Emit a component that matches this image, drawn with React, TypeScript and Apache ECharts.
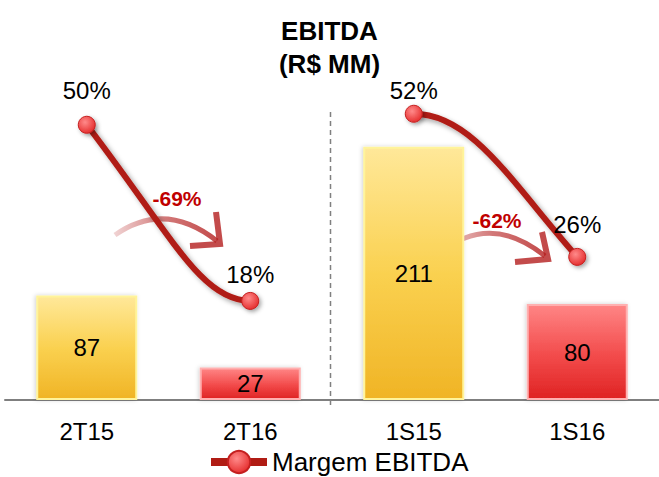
import React, { useEffect, useRef } from "react";
import * as echarts from "echarts";

// ---- data ----
const categories = ["2T15", "2T16", "1S15", "1S16"];
const ebitdaValues = [87, 27, 211, 80];
const marginValues = [50, 18, 52, 26];
const comparisonPairs = [
  [0, 1],
  [2, 3],
];
const titleText = "EBITDA\n(R$ MM)";
const legendName = "Margem EBITDA";

// ---- styles ----
const FONT = '"Liberation Sans", Arial, sans-serif';
const marginLabelGap = [13, 5, 2, 11];
const curveShapes = [
  { c1: [0.52, 0.63], c2: [0.7, 1.0] },
  { c1: [0.36, 0.0], c2: [0.61, 0.5] },
];
const LINE_RED = "#b01c14";

const yellowFill = () =>
  new echarts.graphic.LinearGradient(0, 0, 0, 1, [
    { offset: 0, color: "#ffe899" },
    { offset: 0.5, color: "#fad150" },
    { offset: 1, color: "#f0b425" },
  ]);
const redFill = () =>
  new echarts.graphic.LinearGradient(0, 0, 0, 1, [
    { offset: 0, color: "#ff8585" },
    { offset: 0.55, color: "#f24a4a" },
    { offset: 1, color: "#df2323" },
  ]);

export default function App() {
  const ref = useRef<HTMLDivElement>(null);

  useEffect(() => {
    if (!ref.current) return;
    const chart = echarts.init(ref.current, undefined, { renderer: "svg" });

    const barData = ebitdaValues.map((v, i) => {
      const is2015 = categories[i].endsWith("15");
      return {
        value: v,
        itemStyle: {
          color: is2015 ? yellowFill() : redFill(),
          borderColor: is2015 ? "#fff49a" : "#ffb0b0",
          borderWidth: 2,
          shadowBlur: 4,
          shadowColor: "rgba(0,0,0,0.18)",
          shadowOffsetX: -1,
        },
      };
    });

    const marginData = marginValues.map((v, i) => ({
      value: v,
      label: { distance: marginLabelGap[i] },
    }));

    const curveData = comparisonPairs.map(([a, b]) => [
      a,
      marginValues[a],
      b,
      marginValues[b],
    ]);

    const deltaTexts = comparisonPairs.map(
      ([a, b]) =>
        `${Math.round((ebitdaValues[b] / ebitdaValues[a] - 1) * 100)}%`
    );

    const arrowStroke = () =>
      new echarts.graphic.LinearGradient(0, 0, 1, 0, [
        { offset: 0, color: "rgba(180,30,30,0.2)" },
        { offset: 0.5, color: "rgba(180,30,30,0.6)" },
        { offset: 1, color: "rgba(180,30,30,0.8)" },
      ]);

    const arrows = [
      { p0: [115, 235], cp: [165, 200], p1: [217, 241], head: [[216, 212], [220, 244], [190, 246]], text: [177, 198] },
      { p0: [440, 253], cp: [490, 212], p1: [545, 256], head: [[542, 232], [548, 259], [515, 262]], text: [497, 220] },
    ];

    const graphics: any[] = [
      {
        type: "line",
        z: 1,
        shape: { x1: 330.5, y1: 112, x2: 330.5, y2: 408 },
        style: { stroke: "#808080", lineWidth: 1.5, lineDash: [5, 4] },
      },
    ];
    arrows.forEach((a, i) => {
      graphics.push({
        type: "bezierCurve",
        z: 1,
        shape: { x1: a.p0[0], y1: a.p0[1], cpx1: a.cp[0], cpy1: a.cp[1], x2: a.p1[0], y2: a.p1[1] },
        style: { stroke: arrowStroke(), lineWidth: 5, fill: null },
      });
      graphics.push({
        type: "polyline",
        z: 1,
        shape: { points: a.head },
        style: { stroke: "rgba(180,30,30,0.8)", lineWidth: 6, fill: null, lineJoin: "miter" },
      });
      graphics.push({
        type: "text",
        z: 20,
        x: a.text[0],
        y: a.text[1],
        style: {
          text: deltaTexts[i],
          fill: "#c00000",
          font: `bold 21px ${FONT}`,
          align: "center",
          verticalAlign: "middle",
        },
      });
    });

    chart.setOption({
      animation: false,
      backgroundColor: "#ffffff",
      title: {
        text: titleText,
        left: "center",
        top: 9,
        textStyle: {
          fontSize: 26,
          fontWeight: "bold",
          lineHeight: 33,
          color: "#000",
          fontFamily: FONT,
        },
      },
      legend: {
        data: [legendName],
        left: 202,
        top: 444,
        itemWidth: 56,
        itemHeight: 28,
        selectedMode: false,
        lineStyle: { color: LINE_RED, width: 8, opacity: 1 },
        textStyle: { fontSize: 26, color: "#000", fontFamily: FONT },
      },
      grid: { left: 5, right: 0, top: 100, bottom: 77 },
      xAxis: {
        type: "category",
        data: categories,
        axisTick: { show: false },
        axisLine: { lineStyle: { color: "#7f7f7f", width: 2 } },
        axisLabel: { fontSize: 24, color: "#000", margin: 19, fontFamily: FONT },
      },
      yAxis: [
        { type: "value", min: 0, max: 250, show: false },
        { type: "value", min: 0, max: 54.5, show: false },
      ],
      graphic: graphics,
      series: [
        {
          type: "bar",
          name: "EBITDA",
          data: barData,
          barWidth: 101,
          z: 2,
          label: {
            show: true,
            position: "inside",
            fontSize: 24,
            color: "#000",
            fontFamily: FONT,
          },
        },
        {
          type: "custom",
          name: "curves",
          yAxisIndex: 1,
          z: 3,
          data: curveData,
          encode: { x: 0, y: 1 },
          renderItem: (params: any, api: any) => {
            const p0 = api.coord([api.value(0), api.value(1)]);
            const p3 = api.coord([api.value(2), api.value(3)]);
            const s = curveShapes[params.dataIndex];
            const dx = p3[0] - p0[0];
            const dy = p3[1] - p0[1];
            return {
              type: "bezierCurve",
              shape: {
                x1: p0[0],
                y1: p0[1],
                x2: p3[0],
                y2: p3[1],
                cpx1: p0[0] + s.c1[0] * dx,
                cpy1: p0[1] + s.c1[1] * dy,
                cpx2: p0[0] + s.c2[0] * dx,
                cpy2: p0[1] + s.c2[1] * dy,
              },
              style: {
                stroke: LINE_RED,
                lineWidth: 6,
                fill: null,
                shadowBlur: 5,
                shadowColor: "rgba(0,0,0,0.35)",
                shadowOffsetX: 3,
                shadowOffsetY: 3,
              },
            };
          },
        },
        {
          type: "line",
          name: legendName,
          yAxisIndex: 1,
          z: 4,
          data: marginData,
          symbol: "circle",
          symbolSize: 17,
          lineStyle: { color: LINE_RED, width: 6, opacity: 0 },
          itemStyle: {
            color: new echarts.graphic.RadialGradient(0.4, 0.35, 0.7, [
              { offset: 0, color: "#ff8a8a" },
              { offset: 1, color: "#e42a2a" },
            ]),
            borderColor: "#c42020",
            borderWidth: 1,
            shadowBlur: 4,
            shadowColor: "rgba(0,0,0,0.35)",
            shadowOffsetX: 2,
            shadowOffsetY: 2,
          },
          label: {
            show: true,
            position: "top",
            formatter: "{c}%",
            fontSize: 24,
            color: "#000",
            fontFamily: FONT,
          },
        },
      ],
    });

    return () => chart.dispose();
  }, []);

  return (
    <div
      ref={ref}
      style={{ position: "fixed", left: 0, top: 0, width: 659, height: 477 }}
    />
  );
}
